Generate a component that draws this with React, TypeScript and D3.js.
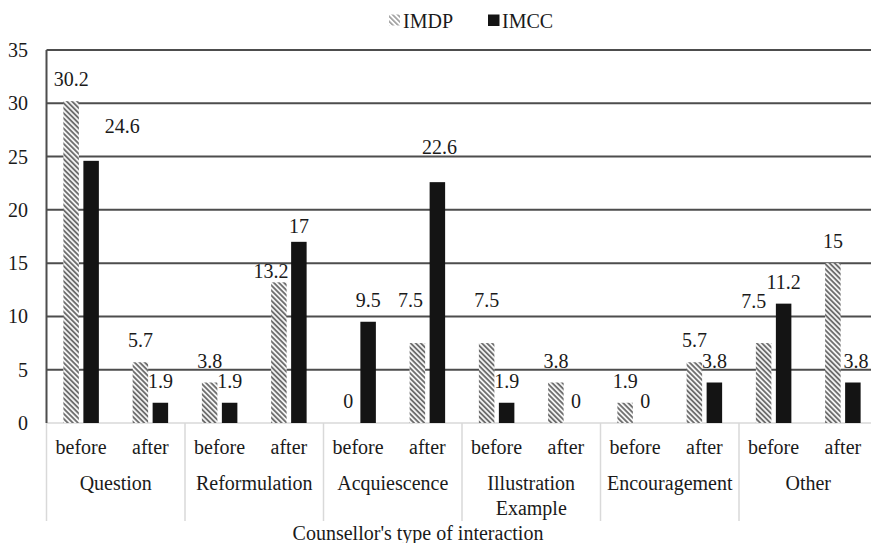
import React from "react";
import * as d3 from "d3";

// Interaction types, the two phases inside each type, and the share (%) per series
const categories = ["Question", "Reformulation", "Acquiescence", "Illustration\nExample", "Encouragement", "Other"];
const phases = ["before", "after"];
const imdpValues = [30.2, 5.7, 3.8, 13.2, 0, 7.5, 7.5, 3.8, 1.9, 5.7, 7.5, 15];
const imccValues = [24.6, 1.9, 1.9, 17, 9.5, 22.6, 1.9, 0, 0, 3.8, 11.2, 3.8];
const yTicks = [0, 5, 10, 15, 20, 25, 30, 35];
const seriesNames = ["IMDP", "IMCC"];
const axisTitle = "Counsellor's type of interaction";

const W = 871;
const H = 543;
const FONT = "'Liberation Serif', 'Times New Roman', Times, serif";
const FS = 20;
const TEXT = "#1a1a1a";

// Hand nudges for value labels that were moved to avoid overlaps: key = "series-index"
const labelNudge: Record<string, [number, number]> = {
  "1-0": [31, -13],
  "0-3": [-8, 11],
  "1-3": [0, 6],
  "0-5": [-7, -21],
  "1-5": [2, -13],
  "0-6": [0, -21],
  "0-10": [-10, -20],
  "1-11": [3, 0],
};

export default function App() {
  const left = 46.5;
  const right = 877.5;
  const y0 = 423;
  const yTop = 50;

  const slots = d3.range(categories.length * phases.length);
  const x = d3.scaleBand<number>().domain(slots).range([left, right]).paddingInner(0);
  const groupX = d3.scaleBand<number>().domain(d3.range(categories.length)).range([left, right]);
  const y = d3.scaleLinear().domain([0, 35]).range([y0, yTop]);
  const barW = 15.5;
  const gap = 4.5;
  const inner = d3
    .scaleOrdinal<number, number>()
    .domain([0, 1])
    .range([-gap / 2 - barW, gap / 2]);

  const series = [imdpValues, imccValues];
  const fills = ["url(#hatch)", "#141414"];

  return (
    <svg
      width={W}
      height={H}
      viewBox={`0 0 ${W} ${H}`}
      style={{ position: "absolute", left: 0, top: 0, background: "#fff", fontFamily: FONT }}
    >
      <defs>
        <pattern id="hatch" width={3.6} height={3.6} patternUnits="userSpaceOnUse" patternTransform="rotate(-45)">
          <rect width={3.6} height={3.6} fill="#f2f2f2" />
          <rect width={1.8} height={3.6} fill="#6e6e6e" />
        </pattern>
        <pattern id="hatchLegend" width={3.6} height={3.6} patternUnits="userSpaceOnUse" patternTransform="rotate(-45)">
          <rect width={3.6} height={3.6} fill="#fff" />
          <rect width={1.6} height={3.6} fill="#9a9a9a" />
        </pattern>
      </defs>
      <rect width={W} height={H} fill="#fff" />

      {/* horizontal gridlines */}
      {yTicks
        .filter((t) => t > 0)
        .map((t) => (
          <line key={t} x1={left} x2={W} y1={y(t)} y2={y(t)} stroke="#4d4d4d" strokeWidth={2} />
        ))}
      {/* category axis line and group separators */}
      <line x1={left} x2={W} y1={y0} y2={y0} stroke="#d9d9d9" strokeWidth={1.5} />
      {d3.range(categories.length + 1).map((k) => {
        const gx = left + k * groupX.bandwidth();
        return <line key={k} x1={gx} x2={gx} y1={y0} y2={521} stroke="#d9d9d9" strokeWidth={1.5} />;
      })}
      {/* value axis line */}
      <line x1={left} x2={left} y1={yTop} y2={y0} stroke="#4d4d4d" strokeWidth={2} />

      {/* y tick labels */}
      {yTicks.map((t) => (
        <text key={t} x={28} y={y(t)} dy="0.35em" textAnchor="end" fontSize={FS} fill={TEXT}>
          {t}
        </text>
      ))}

      {/* bars */}
      {series.map((vals, s) =>
        vals.map((v, i) => {
          const cx = (x(i) as number) + x.bandwidth() / 2;
          const bx = cx + inner(s);
          return (
            <rect key={`${s}-${i}`} x={bx} y={y(v)} width={barW} height={y0 - y(v)} fill={fills[s]} />
          );
        })
      )}

      {/* value labels */}
      {series.map((vals, s) =>
        vals.map((v, i) => {
          const cx = (x(i) as number) + x.bandwidth() / 2 + inner(s) + barW / 2;
          const [dx, dy] = labelNudge[`${s}-${i}`] ?? [0, 0];
          return (
            <text
              key={`l${s}-${i}`}
              x={cx + dx}
              y={y(v) - 22 + dy}
              dy="0.35em"
              textAnchor="middle"
              fontSize={FS}
              fill={TEXT}
            >
              {v}
            </text>
          );
        })
      )}

      {/* phase labels */}
      {slots.map((i) => (
        <text
          key={`p${i}`}
          x={(x(i) as number) + x.bandwidth() / 2}
          y={447}
          dy="0.35em"
          textAnchor="middle"
          fontSize={FS}
          fill={TEXT}
        >
          {phases[i % phases.length]}
        </text>
      ))}

      {/* category labels */}
      {categories.map((c, k) => {
        const cx = (groupX(k) as number) + groupX.bandwidth() / 2;
        return (
          <text key={c} x={cx} y={483} textAnchor="middle" fontSize={FS} fill={TEXT}>
            {c.split("\n").map((line, j) => (
              <tspan key={j} x={cx} dy={j === 0 ? "0.35em" : 25}>
                {line}
              </tspan>
            ))}
          </text>
        );
      })}

      {/* axis title */}
      <text x={418} y={533} dy="0.35em" textAnchor="middle" fontSize={FS} fill={TEXT}>
        {axisTitle}
      </text>

      {/* legend */}
      <g>
        <rect x={389} y={14.5} width={11} height={11} fill="url(#hatchLegend)" />
        <text x={403} y={20.5} dy="0.35em" fontSize={FS} fill={TEXT}>
          {seriesNames[0]}
        </text>
        <rect x={488} y={14.5} width={11.5} height={11.5} fill="#141414" />
        <text x={502} y={20.5} dy="0.35em" fontSize={FS} fill={TEXT}>
          {seriesNames[1]}
        </text>
      </g>
    </svg>
  );
}
